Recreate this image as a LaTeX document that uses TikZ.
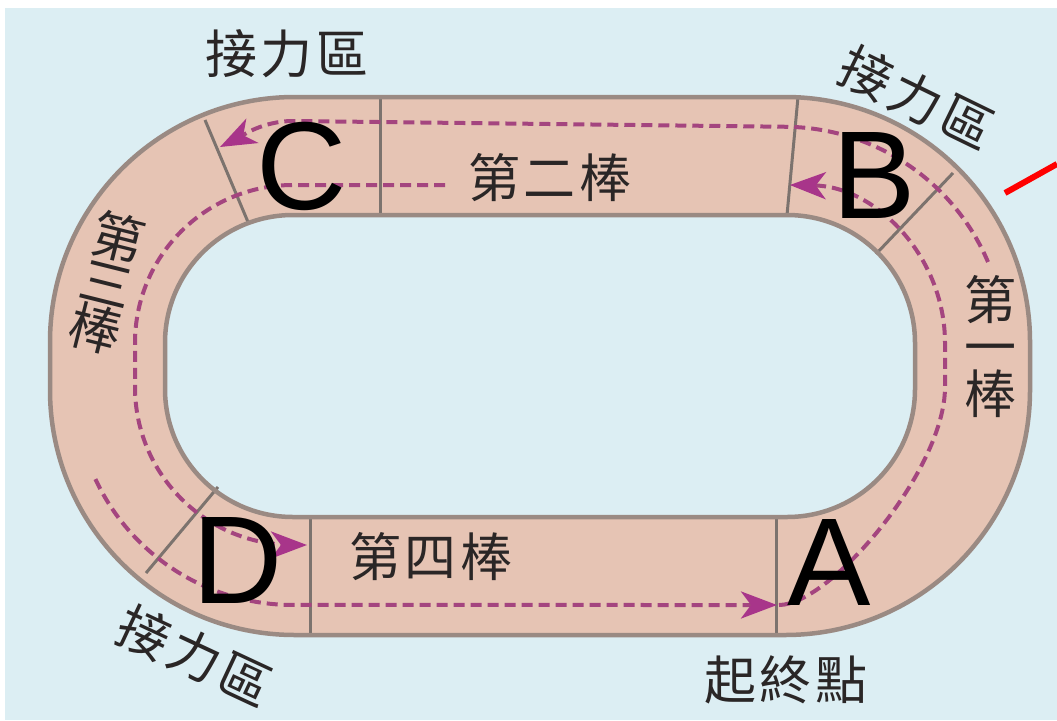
\documentclass[tikz,border=0pt]{standalone}
\usepackage{fontspec}
\setmainfont{Liberation Sans}
\newfontfamily\cjk{Noto Sans CJK TC}
\usetikzlibrary{arrows.meta}
\definecolor{bgblue}{HTML}{DCEEF3}
\definecolor{trackfill}{HTML}{E6C4B4}
\definecolor{trackedge}{HTML}{9A8A83}
\definecolor{divider}{HTML}{7C736E}
\definecolor{runline}{HTML}{A4457F}
\definecolor{runhead}{HTML}{A8358A}
\definecolor{labelgray}{HTML}{2A2626}
\newcommand{\cjksp}{\hspace{4pt}}
\begin{document}
\begin{tikzpicture}[x=1pt,y=-1pt,
  edge/.style={draw=trackedge,line width=4.5pt},
  divline/.style={draw=divider,line width=3pt},
  runpath/.style={draw=runline,line width=4pt,dash pattern=on 11pt off 6pt,
     -{Stealth[length=36pt,width=27pt,inset=10pt,runhead]}},
  cjklabel/.style={font=\cjk\fontsize{52}{47}\selectfont,text=labelgray,inner sep=0pt,align=center},
  bigletter/.style={font=\fontsize{125}{125}\selectfont,inner sep=0pt}
]
\useasboundingbox (0,0) rectangle (1057,720);
\fill[white] (0,0) rectangle (1057,720);
\fill[bgblue] (5,8) rectangle (1057,720);
% track
\fill[trackfill,rounded corners=245pt] (50,97) rectangle (1030,635);
\fill[bgblue,rounded corners=128pt] (165,215) rectangle (915,517);
% dividers
\draw[divline] (205,120) -- (248,222);
\draw[divline] (380,97) -- (380,215);
\draw[divline] (798,97) -- (787,215);
\draw[divline] (953,173) -- (876,254);
\draw[divline] (218,487) -- (146,573);
\draw[divline] (310,517) -- (310,635);
\draw[divline] (776,517) -- (776,635);
% edges
\draw[edge,rounded corners=245pt] (50,97) rectangle (1030,635);
\draw[edge,rounded corners=128pt] (165,215) rectangle (915,517);
% runners
\draw[runpath] (95.4,479.1) arc[start angle=155,end angle=90,radius=218] -- (777,605);
\draw[runpath] (779,605) .. controls (830,605) and (945,470) .. (945,387) -- (945,343)
   arc[start angle=0,end angle=-89,radius=158];
\draw[runpath] (988,262) arc[start angle=-23,end angle=-90,radius=222] -- (293,121)
   .. controls (262,121) and (240,137) .. (220,147);
\draw[runpath] (445,185) -- (293,185) arc[start angle=-90,end angle=-180,radius=158]
   -- (135,387) arc[start angle=180,end angle=90,radius=158] -- (307,545);
% red mark
\draw[red,line width=6pt] (1005,193) -- (1057,164);
% letters
\node[bigletter] (C) at (302,166) {C};
\node[bigletter] (B) at (874,175) {B};
\node[bigletter] (D) at (238,560) {D};
\node[bigletter] (A) at (829,562) {A};
% labels
\node[cjklabel] (zoneC) at (287,54) {接\cjksp 力\cjksp 區};
\node[cjklabel,rotate=-26] (zoneB) at (917,98) {接\cjksp 力\cjksp 區};
\node[cjklabel,rotate=-25] (zoneD) at (195,656) {接\cjksp 力\cjksp 區};
\node[cjklabel] (startpt) at (786,680) {起\cjksp 終\cjksp 點};
\node[cjklabel] (leg2) at (550,178) {第\cjksp 二\cjksp 棒};
\node[cjklabel] (leg4) at (431,557) {第\cjksp 四\cjksp 棒};
\node[cjklabel] (leg1) at (990,347) {第\\一\\棒};
\node[cjklabel,rotate=-14] (leg3) at (107,283) {第\\三\\棒};
\end{tikzpicture}
\end{document}
